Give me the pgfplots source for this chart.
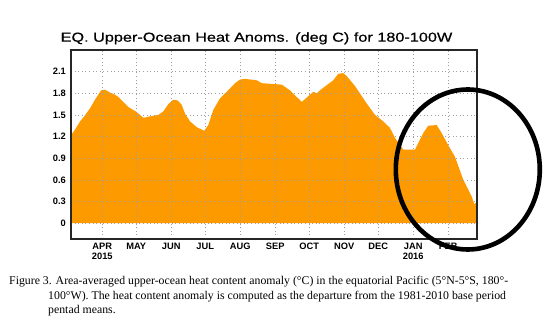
\documentclass[border=0pt]{standalone}
\usepackage{fontspec}
\usepackage{pgfplots}
\pgfplotsset{compat=1.18}
\newfontfamily\titlefont[FakeStretch=1.25,FakeBold=0.6]{Liberation Sans}
\newfontfamily\tickfont{Liberation Sans}
\newfontfamily\capfont{Liberation Serif}
\definecolor{heat}{RGB}{252,154,0}
\begin{document}
\begin{tikzpicture}
\useasboundingbox (0,0) rectangle (558pt,329pt);
\begin{axis}[
  scale only axis, width=406pt, height=189pt,
  at={(71pt,90pt)}, anchor=south west,
  xmin=62.3, xmax=421.4, ymin=-0.22, ymax=2.40,
  xtick={90,120,151,181,212,243,273,304,334,365,396},
  xticklabels={{APR\\2015},MAY,JUN,JUL,AUG,SEP,OCT,NOV,DEC,{JAN\\2016},FEB},
  ytick={0,0.3,0.6,0.9,1.2,1.5,1.8,2.1},
  yticklabels={0,0.3,0.6,0.9,1.2,1.5,1.8,2.1},
  xticklabel style={align=center, anchor=north, inner sep=0pt, yshift=-3.5pt,
    font=\tickfont\bfseries\fontsize{9.3}{10.8}\selectfont},
  yticklabel style={anchor=east, inner sep=0pt, xshift=-5pt,
    font=\tickfont\bfseries\fontsize{9.3}{10.8}\selectfont},
  tick style={draw=none},
  grid=major,
  major grid style={draw=gray!75, line width=0.6pt, dash pattern=on 1pt off 2.6pt},
  axis on top=true,
  axis line style={draw=black!85, line width=1.2pt},
]
\addplot[draw=none, fill=heat] coordinates {
(62.3,1.22) (66,1.30) (70.3,1.41) (74,1.48) (79.1,1.59) (83.5,1.71)
(88.9,1.84) (92.4,1.85) (96.8,1.81) (100,1.79) (104.2,1.75) (108,1.69)
(113.0,1.61) (120.4,1.54) (126.3,1.46) (132.2,1.48) (139.5,1.50) (144.0,1.55)
(148.4,1.65) (152.8,1.71) (156.7,1.70) (160.2,1.64) (163.1,1.52) (167.6,1.41)
(173.5,1.33) (180.2,1.28) (183.7,1.36) (188.2,1.57) (194.1,1.73) (200.0,1.82)
(207.4,1.94) (211.8,1.99) (216,2.00) (226.6,1.98) (231.0,1.94) (248.7,1.92)
(256.0,1.84) (266.4,1.68) (276.6,1.82) (279.6,1.80) (284.0,1.86) (294.3,1.98)
(298.7,2.07) (303.1,2.08) (306.1,2.04) (313.5,1.90) (323.8,1.66) (331.2,1.50)
(338.5,1.41) (344.4,1.32) (348.9,1.18) (356.2,1.02) (366.6,1.02) (369.5,1.11)
(373.9,1.25) (378.3,1.35) (385.7,1.36) (390.1,1.25) (396.0,1.08) (401.9,0.92)
(409.3,0.60) (416.7,0.37) (419.0,0.26) (421.4,0.30)
} \closedcycle;
\end{axis}
\node[anchor=base, inner sep=0pt, font=\titlefont\fontsize{13}{13}\selectfont]
  at (256.5pt,287.3pt) {EQ. Upper-Ocean Heat Anoms. (deg C) for 180-100W};
\draw[line width=4.6pt] (467.8pt,159.5pt) ellipse [x radius=72pt, y radius=80pt];
\begin{scope}[every node/.style={anchor=base west, inner sep=0pt, font=\capfont\fontsize{11.8}{14}\selectfont}]
\node at (9pt,44.3pt) {Figure 3. Area-averaged upper-ocean heat content anomaly (°C) in the equatorial Pacific (5°N-5°S, 180°-};
\node at (48pt,29.3pt) {100°W). The heat content anomaly is computed as the departure from the 1981-2010 base period};
\node at (48pt,15pt) {pentad means.};
\end{scope}
\end{tikzpicture}
\end{document}
